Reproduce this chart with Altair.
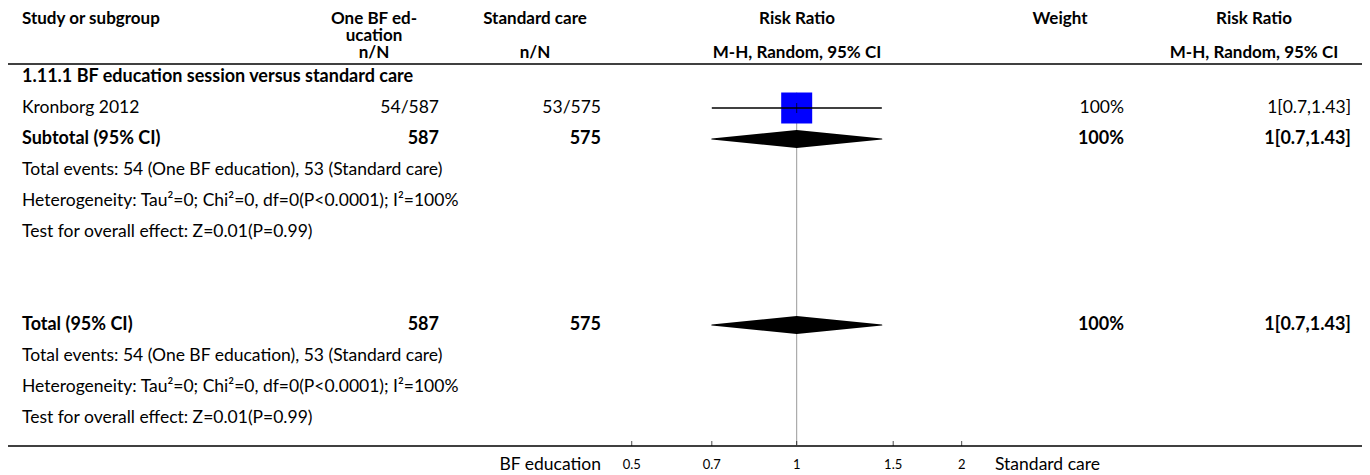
import altair as alt
import pandas as pd

# ---------------- data ----------------
subgroup_title = "1.11.1 BF education session versus standard care"

study_names = ["Kronborg 2012"]
study_exp = ["54/587"]
study_ctl = ["53/575"]
study_rr = [1.0]
study_lo = [0.7]
study_hi = [1.43]
study_weight = ["100%"]
study_ci_text = ["1[0.7,1.43]"]
study_box_px = [31]

summary_names = ["Subtotal (95% CI)", "Total (95% CI)"]
summary_exp = ["587", "587"]
summary_ctl = ["575", "575"]
summary_rr = [1.0, 1.0]
summary_lo = [0.7, 0.7]
summary_hi = [1.43, 1.43]
summary_weight = ["100%", "100%"]
summary_ci_text = ["1[0.7,1.43]", "1[0.7,1.43]"]

note_lines = [
    "Total events: 54 (One BF education), 53 (Standard care)",
    "Heterogeneity: Tau\u00b2=0; Chi\u00b2=0, df=0(P<0.0001); I\u00b2=100%",
    "Test for overall effect: Z=0.01(P=0.99)",
]

header_line1 = ["Study or subgroup", "One BF ed-", "Standard care", "Risk Ratio", "Weight", "Risk Ratio"]
header_line2 = ["", "ucation", "", "", "", ""]
header_line3 = ["", "n/N", "n/N", "M-H, Random, 95% CI", "", "M-H, Random, 95% CI"]

tick_values = [0.5, 0.7, 1, 1.5, 2]
tick_labels = ["0.5", "0.7", "1", "1.5", "2"]
favours_left = "BF education"
favours_right = "Standard care"

# row layout (row index units)
ROW_PX = 31.0
Y0 = 69.0
ROW_TITLE = 0
ROW_STUDY = 1
ROW_SUB = 2
ROW_TOTAL = 8
summary_rows = [ROW_SUB, ROW_TOTAL]
ROW_H1 = (11 - Y0) / ROW_PX
ROW_H2 = (28 - Y0) / ROW_PX
ROW_H3 = (45 - Y0) / ROW_PX
ROW_RULE = (56 - Y0) / ROW_PX
ROW_AXIS, ROW_TICKLAB = 11.9, 12.52
NULL_TOP = 0.5

W, H = 1354, 467
FONT = "Lato"
FS = 17.5
FSB = 18
FSH = 17
yscale = alt.Scale(domain=[-Y0 / ROW_PX, (H - Y0) / ROW_PX], reverse=True, nice=False, zero=False)
xscale = alt.Scale(type="log", domain=[0.47, 2.08], range=[609, 963], nice=False)

# ---------------- tables ----------------
cells = []
def add(row, col, text, kind):
    cells.append({"row": row, "col": col, "text": text, "kind": kind})

cols = ["study", "exp", "ctl", "rr", "wt", "ci"]
for c, t1, t2, t3 in zip(cols, header_line1, header_line2, header_line3):
    add(ROW_H1, "h_" + c, t1, "head")
    if t2:
        add(ROW_H2, "h_" + c, t2, "head")
    if t3:
        add(ROW_H3, "h_" + c, t3, "head")

add(ROW_TITLE, "study", subgroup_title, "bold")
for i, n in enumerate(study_names):
    r = ROW_STUDY + i
    add(r, "study", n, "normal")
    add(r, "exp", study_exp[i], "normal")
    add(r, "ctl", study_ctl[i], "normal")
    add(r, "wt", study_weight[i], "normal")
    add(r, "ci", study_ci_text[i], "normal")
for j, r in enumerate(summary_rows):
    add(r, "study", summary_names[j], "bold")
    add(r, "exp", summary_exp[j], "bold")
    add(r, "ctl", summary_ctl[j], "bold")
    add(r, "wt", summary_weight[j], "bold")
    add(r, "ci", summary_ci_text[j], "bold")
    for k, line in enumerate(note_lines):
        add(r + 1 + k, "study", line, "normal")
cells = pd.DataFrame(cells)

col_x = {
    "study": (14, "left"), "exp": (431, "right"), "ctl": (593, "right"),
    "wt": (1116, "right"), "ci": (1343, "right"),
    "h_study": (14, "left"), "h_exp": (366, "center"), "h_ctl": (527, "center"),
    "h_rr": (789, "center"), "h_wt": (1052, "center"), "h_ci": (1246, "center"),
}
kind_style = {"head": (FSH, "bold"), "bold": (FSB, "bold"), "normal": (FS, "normal")}

layers = []
for col, (xp, al) in col_x.items():
    for kind, (fs, fw) in kind_style.items():
        sub = cells[(cells.col == col) & (cells.kind == kind)]
        if len(sub) == 0:
            continue
        layers.append(
            alt.Chart(sub).mark_text(
                align=al, baseline="middle", font=FONT, fontSize=fs,
                fontWeight=fw, color="#000"
            ).encode(
                x=alt.value(xp),
                y=alt.Y("row:Q", scale=yscale, axis=None),
                text="text:N",
            )
        )

# horizontal full-width rules
hr = pd.DataFrame({"row": [ROW_RULE, ROW_AXIS]})
layers.append(
    alt.Chart(hr).mark_rule(color="#000", strokeWidth=1.5).encode(
        x=alt.value(0), x2=alt.value(W), y=alt.Y("row:Q", scale=yscale, axis=None)
    )
)

# null line
nl = pd.DataFrame({"rr": [1.0], "top": [NULL_TOP], "bot": [ROW_AXIS]})
layers.append(
    alt.Chart(nl).mark_rule(color="#999", strokeWidth=1).encode(
        x=alt.X("rr:Q", scale=xscale, axis=None),
        y=alt.Y("top:Q", scale=yscale, axis=None), y2="bot:Q",
    )
)

# study CI lines, boxes, centre ticks
st = pd.DataFrame({
    "row": [ROW_STUDY + i for i in range(len(study_names))],
    "rr": study_rr, "lo": study_lo, "hi": study_hi,
    "area": [b * b for b in study_box_px],
})
layers.append(
    alt.Chart(st).mark_square(color="#0000ff", opacity=1, filled=True).encode(
        x=alt.X("rr:Q", scale=xscale, axis=None),
        y=alt.Y("row:Q", scale=yscale, axis=None),
        size=alt.Size("area:Q", scale=None, legend=None),
    )
)
layers.append(
    alt.Chart(st).mark_rule(color="#000", strokeWidth=1.3).encode(
        x=alt.X("lo:Q", scale=xscale, axis=None), x2="hi:Q",
        y=alt.Y("row:Q", scale=yscale, axis=None),
    )
)
layers.append(
    alt.Chart(st).mark_tick(color="#000", orient="vertical", size=10, thickness=1).encode(
        x=alt.X("rr:Q", scale=xscale, axis=None),
        y=alt.Y("row:Q", scale=yscale, axis=None),
    )
)

# summary diamonds (trail whose width goes 0 -> full -> 0)
DIAMOND_PX = 18
dpts = []
for j, r in enumerate(summary_rows):
    dpts.append({"d": j, "o": 0, "rr": summary_lo[j], "row": r, "w": 0})
    dpts.append({"d": j, "o": 1, "rr": summary_rr[j], "row": r, "w": DIAMOND_PX})
    dpts.append({"d": j, "o": 2, "rr": summary_hi[j], "row": r, "w": 0})
dpts = pd.DataFrame(dpts)
layers.append(
    alt.Chart(dpts).mark_trail(color="#000", opacity=1).encode(
        x=alt.X("rr:Q", scale=xscale, axis=None),
        y=alt.Y("row:Q", scale=yscale, axis=None),
        size=alt.Size("w:Q", scale=None, legend=None),
        detail="d:N", order="o:Q",
    )
)

# axis ticks and labels
tk = pd.DataFrame({"rr": tick_values, "lab": tick_labels, "row": ROW_AXIS, "lrow": ROW_TICKLAB})
layers.append(
    alt.Chart(tk).mark_tick(color="#000", orient="vertical", size=5, thickness=1, yOffset=-2.5).encode(
        x=alt.X("rr:Q", scale=xscale, axis=None),
        y=alt.Y("row:Q", scale=yscale, axis=None),
    )
)
layers.append(
    alt.Chart(tk).mark_text(font=FONT, fontSize=13, color="#000", baseline="middle", align="center").encode(
        x=alt.X("rr:Q", scale=xscale, axis=None),
        y=alt.Y("lrow:Q", scale=yscale, axis=None),
        text="lab:N",
    )
)
fav = pd.DataFrame({"row": [ROW_TICKLAB], "left": [favours_left], "right": [favours_right]})
layers.append(
    alt.Chart(fav).mark_text(font=FONT, fontSize=FS, color="#000", baseline="middle", align="right").encode(
        x=alt.value(593), y=alt.Y("row:Q", scale=yscale, axis=None), text="left:N",
    )
)
layers.append(
    alt.Chart(fav).mark_text(font=FONT, fontSize=FS, color="#000", baseline="middle", align="left").encode(
        x=alt.value(987), y=alt.Y("row:Q", scale=yscale, axis=None), text="right:N",
    )
)

chart = alt.layer(*layers).properties(
    width=W, height=H, padding=0,
    autosize=alt.AutoSizeParams(type="none"),
).configure_view(stroke=None)

chart.save("out.html", embed_options={"renderer": "svg", "actions": False})
